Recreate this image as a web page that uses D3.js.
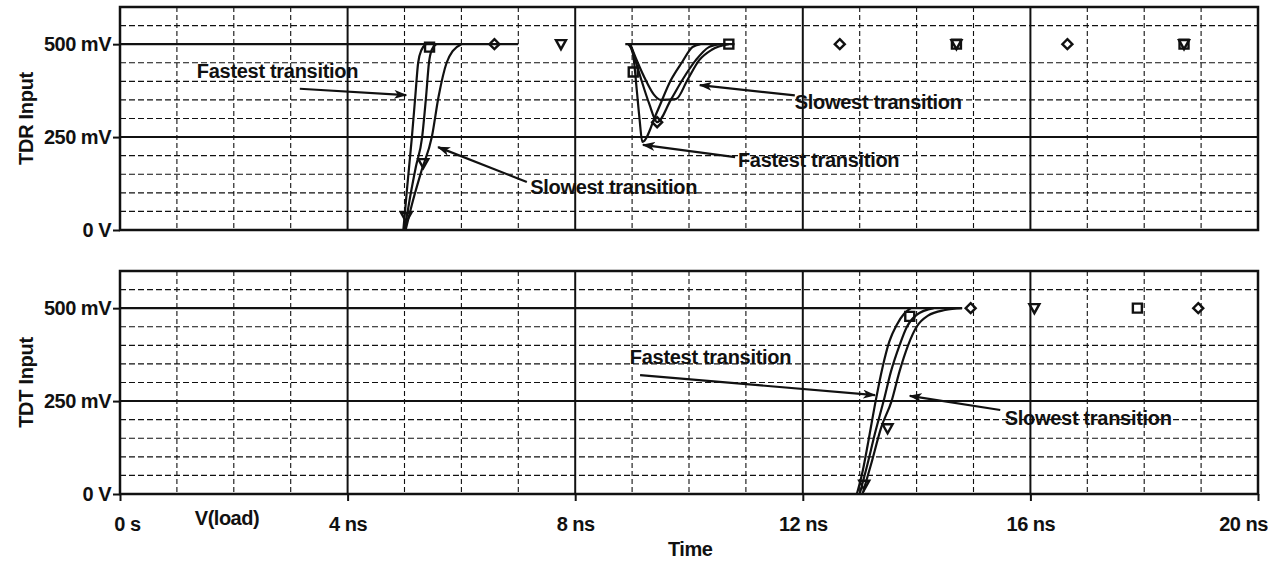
<!DOCTYPE html>
<html>
<head>
<meta charset="utf-8">
<script src="https://cdn.jsdelivr.net/npm/d3@7"></script>
<style>
  html, body { margin: 0; padding: 0; background: #fff; }
  svg text { font-family: "Liberation Sans", Arial, sans-serif; font-weight: bold; fill: #111; }
</style>
</head>
<body>
<svg id="chart" width="1268" height="563"></svg>
<script>
// ---------- DATA ----------
const timeTicks = [0, 4, 8, 12, 16, 20];
const timeTickLabels = ["0 s", "4 ns", "8 ns", "12 ns", "16 ns", "20 ns"];
const voltTicks = [0, 250, 500];
const voltTickLabels = ["0 V", "250 mV", "500 mV"];
const panelTitles = ["TDR Input", "TDT Input"];
const traceName = "V(load)";
const xTitle = "Time";

// TDR (top) traces: [time ns, mV]
const tdrFastRise = [[4.98,0],[5.05,120],[5.13,250],[5.19,360],[5.24,450],[5.30,485],[5.38,500]];
const tdrMidRise  = [[5.00,0],[5.10,90],[5.20,170],[5.31,250],[5.38,360],[5.43,450],[5.48,485],[5.56,500]];
const tdrSlowRise = [[5.02,0],[5.15,80],[5.30,160],[5.48,250],[5.60,360],[5.74,450],[5.85,482],[6.00,500]];
const tdrFastDip  = [[8.93,500],[8.98,490],[9.02,470],[9.08,380],[9.13,300],[9.18,237],[9.43,315],[9.68,403],[9.88,452],[10.06,492],[10.20,500]];
const tdrMidDip   = [[8.95,500],[9.00,485],[9.05,460],[9.15,410],[9.30,340],[9.44,290],[9.68,350],[9.88,403],[10.12,457],[10.35,492],[10.55,500]];
const tdrSlowDip  = [[8.97,500],[9.02,480],[9.10,450],[9.25,400],[9.38,365],[9.50,350],[9.77,352],[9.97,403],[10.18,457],[10.40,485],[10.70,500]];
const tdrLevel1   = [[0,500],[7.0,500]];
const tdrLevel2   = [[8.88,500],[10.80,500]];
const tdrBase     = [[0,0],[5.0,0]];

// TDT (bottom) traces
const tdtFast = [[12.95,0],[13.05,60],[13.15,140],[13.28,250],[13.40,340],[13.52,410],[13.65,455],[13.78,485],[13.90,500]];
const tdtMid  = [[13.00,0],[13.12,70],[13.28,170],[13.42,250],[13.55,330],[13.70,400],[13.83,450],[14.00,482],[14.30,500]];
const tdtSlow = [[13.05,0],[13.20,80],[13.38,180],[13.56,250],[13.70,330],[13.85,400],[14.00,450],[14.20,480],[14.50,495],[14.80,500]];
const tdtLevel = [[0,500],[14.8,500]];
const tdtBase  = [[0,0],[13.0,0]];

// Markers: [time ns, mV, shape]
const tdrMarkers = [[5.44,492,"square"],[5.33,180,"triangle"],[5.03,35,"triangle"],[6.58,500,"diamond"],[7.75,500,"triangle"],
  [9.02,425,"square"],[9.44,290,"diamond"],[10.70,500,"square"],[12.65,500,"diamond"],[14.70,500,"square"],[14.70,500,"triangle"],
  [16.65,500,"diamond"],[18.70,500,"square"],[18.70,500,"triangle"]];
const tdtMarkers = [[13.88,478,"square"],[13.49,177,"triangle"],[13.08,25,"triangle"],[14.95,500,"diamond"],[16.07,500,"triangle"],
  [17.88,500,"square"],[18.95,500,"diamond"]];

// Annotations: label, text start [t, mV], arrow from [t, mV] to [t, mV]
const tdrNotes = [
  ["Fastest transition", [1.35,409], [3.16,380], [5.03,363]],
  ["Slowest transition", [7.21,97],  [7.15,129], [5.59,223]],
  ["Slowest transition", [11.86,326],[11.86,362],[10.19,390]],
  ["Fastest transition", [10.86,169],[10.81,196],[9.19,229]]
];
const tdtNotes = [
  ["Fastest transition", [8.96,350], [9.14,320], [13.27,266]],
  ["Slowest transition", [15.55,186],[15.47,226],[13.88,264]]
];

// ---------- DRAW ----------
const svg = d3.select("#chart");
const x = d3.scaleLinear().domain([0, 20]).range([120, 1258]);
const panels = [
  { y: d3.scaleLinear().domain([0, 600]).range([230, 7]), title: panelTitles[0],
    traces: [tdrFastRise, tdrMidRise, tdrSlowRise, tdrFastDip, tdrMidDip, tdrSlowDip, tdrLevel1, tdrLevel2, tdrBase],
    markers: tdrMarkers, notes: tdrNotes, xAxis: false },
  { y: d3.scaleLinear().domain([0, 600]).range([494, 271]), title: panelTitles[1],
    traces: [tdtFast, tdtMid, tdtSlow, tdtLevel, tdtBase],
    markers: tdtMarkers, notes: tdtNotes, xAxis: true }
];

svg.append("defs").append("marker")
  .attr("id", "arr").attr("viewBox", "0 0 13 9").attr("refX", 12).attr("refY", 4.5)
  .attr("markerWidth", 13).attr("markerHeight", 9).attr("markerUnits", "userSpaceOnUse")
  .attr("orient", "auto")
  .append("path").attr("d", "M0,0 L13,4.5 L0,9 L3.5,4.5 Z").attr("fill", "#111");

const gridMinorT = d3.range(1, 20).filter(t => t % 4 !== 0);
const gridMajorT = d3.range(4, 20, 4);
const gridMinorV = d3.range(50, 600, 50).filter(v => v !== 250 && v !== 500);
const FS = 20;

panels.forEach(p => {
  const g = svg.append("g");
  const y = p.y;
  const [y0, y1] = y.range();
  // dashed grid
  g.selectAll(".vmin").data(gridMinorT).join("line")
    .attr("x1", d => x(d)).attr("x2", d => x(d)).attr("y1", y1).attr("y2", y0)
    .attr("stroke", "#111").attr("stroke-width", 1.1).attr("stroke-dasharray", "5,3");
  g.selectAll(".hmin").data(gridMinorV).join("line")
    .attr("x1", x(0)).attr("x2", x(20)).attr("y1", d => y(d)).attr("y2", d => y(d))
    .attr("stroke", "#111").attr("stroke-width", 1.1).attr("stroke-dasharray", "6,3");
  // solid major grid
  g.selectAll(".vmaj").data(gridMajorT).join("line")
    .attr("x1", d => x(d)).attr("x2", d => x(d)).attr("y1", y1).attr("y2", y0)
    .attr("stroke", "#111").attr("stroke-width", 2);
  g.append("line").attr("x1", x(0)).attr("x2", x(20)).attr("y1", y(250)).attr("y2", y(250))
    .attr("stroke", "#111").attr("stroke-width", 2);

  // traces
  const line = d3.line().x(d => x(d[0])).y(d => y(d[1])).curve(d3.curveMonotoneX);
  g.selectAll(".trace").data(p.traces).join("path")
    .attr("d", line).attr("fill", "none").attr("stroke", "#111").attr("stroke-width", 2.2);

  // markers
  g.selectAll(".mk").data(p.markers).join("path")
    .attr("transform", d => `translate(${x(d[0])},${y(d[1])})`)
    .attr("d", d => d[2] === "square" ? "M-4.5,-4.5H4.5V4.5H-4.5Z"
                  : d[2] === "diamond" ? "M0,-5L5,0L0,5L-5,0Z"
                  : "M-5,-4L5,-4L0,5Z")
    .attr("fill", "none").attr("stroke", "#111").attr("stroke-width", 2.4);

  // frame
  g.append("rect").attr("x", x(0)).attr("y", y1).attr("width", x(20) - x(0)).attr("height", y0 - y1)
    .attr("fill", "none").attr("stroke", "#111").attr("stroke-width", 2.5);

  // y axis
  const ya = d3.axisLeft(y).tickValues(voltTicks).tickSize(7).tickPadding(2)
    .tickFormat((d, i) => voltTickLabels[i]);
  const yg = g.append("g").attr("transform", `translate(${x(0)},0)`).call(ya);
  yg.select(".domain").remove();
  yg.selectAll(".tick line").attr("stroke", "#111").attr("stroke-width", 2);
  yg.selectAll(".tick text").attr("font-size", FS).attr("font-family", "Liberation Sans, Arial, sans-serif")
    .attr("font-weight", "bold").attr("fill", "#111").attr("letter-spacing", "-0.5");

  // y title
  g.append("text").attr("transform", `translate(33,${(y0 + y1) / 2}) rotate(-90)`)
    .attr("text-anchor", "middle").attr("font-size", FS).attr("letter-spacing", "-0.3").text(p.title);

  // x axis
  if (p.xAxis) {
    const xa = d3.axisBottom(x).tickValues(timeTicks).tickSize(7).tickPadding(16)
      .tickFormat((d, i) => timeTickLabels[i]);
    const xg = g.append("g").attr("transform", `translate(0,${y0})`).call(xa);
    xg.select(".domain").remove();
    xg.selectAll(".tick line").attr("stroke", "#111").attr("stroke-width", 2);
    xg.selectAll(".tick text").attr("font-size", FS).attr("font-family", "Liberation Sans, Arial, sans-serif")
      .attr("font-weight", "bold").attr("fill", "#111").attr("letter-spacing", "-0.5");
    xg.selectAll(".tick text").filter((d, i) => i === 0).attr("dx", 7);
    xg.selectAll(".tick text").filter((d, i) => i === timeTicks.length - 1).attr("dx", -15);
    g.append("text").attr("x", x(1.88)).attr("y", y0 + 31).attr("text-anchor", "middle")
      .attr("font-size", FS).attr("letter-spacing", "-0.5").text(traceName);
    g.append("text").attr("x", x(10.02)).attr("y", y0 + 62).attr("text-anchor", "middle")
      .attr("font-size", FS).attr("letter-spacing", "-0.5").text(xTitle);
  }

  // annotations
  p.notes.forEach(n => {
    g.append("text").attr("x", x(n[1][0])).attr("y", y(n[1][1])).attr("font-size", FS)
      .attr("letter-spacing", "-0.3").text(n[0]);
    g.append("line").attr("x1", x(n[2][0])).attr("y1", y(n[2][1]))
      .attr("x2", x(n[3][0])).attr("y2", y(n[3][1]))
      .attr("stroke", "#111").attr("stroke-width", 2.2).attr("marker-end", "url(#arr)");
  });
});
</script>
</body>
</html>
